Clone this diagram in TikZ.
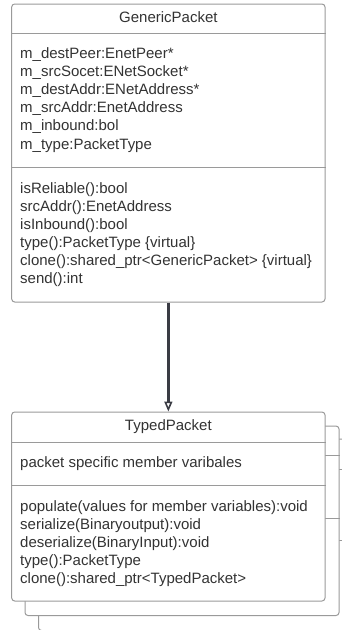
\documentclass[tikz,border=0pt]{standalone}
\usepackage{fontspec}
\setmainfont{Liberation Sans}
\usetikzlibrary{arrows.meta}
\definecolor{bordc}{HTML}{9A9A9A}
\definecolor{txtc}{HTML}{333333}
\definecolor{arrc}{HTML}{3A3C44}
\begin{document}
\begin{tikzpicture}[x=1pt,y=-1pt,
  umlbox/.style={draw=bordc, line width=1pt, fill=white, rounded corners=3pt, inner sep=0pt, rectangle},
  divline/.style={draw=bordc, line width=1pt},
  txt/.style={anchor=base west, inner sep=0pt, text=txtc, font=\fontsize{15}{18}\selectfont},
  ttl/.style={anchor=base, inner sep=0pt, text=txtc, font=\fontsize{15}{18}\selectfont},
  arr/.style={draw=arrc, line width=2.4pt, -{Triangle[open, length=10pt, width=8pt, line width=1.6pt]}}]
\useasboundingbox (0,0) rectangle (342,630);

% back stacked boxes
\node[umlbox, minimum width=313.5pt, minimum height=191.5pt] (b3) at (195.25,534.75) {};
\draw[divline] (b3.west |- 0,469) -- (b3.east |- 0,469);
\draw[divline] (b3.west |- 0,540) -- (b3.east |- 0,540);
\node[umlbox, minimum width=314pt, minimum height=189.5pt] (b2) at (182,520.75) {};
\draw[divline] (b2.west |- 0,455) -- (b2.east |- 0,455);
\draw[divline] (b2.west |- 0,518) -- (b2.east |- 0,518);

% GenericPacket
\node[umlbox, minimum width=313.3pt, minimum height=298pt] (gp) at (168.35,153) {};
\draw[divline] (gp.west |- 0,33) -- (gp.east |- 0,33);
\draw[divline] (gp.west |- 0,167.5) -- (gp.east |- 0,167.5);
\node[ttl] (gpt) at (168.35,22) {GenericPacket};
\node[txt] (ga1) at (20,58.5) {m\_destPeer:EnetPeer*};
\node[txt] (ga2) at (20,76.6) {m\_srcSocet:ENetSocket*};
\node[txt] (ga3) at (20,94.7) {m\_destAddr:ENetAddress*};
\node[txt] (ga4) at (20,112.8) {m\_srcAddr:EnetAddress};
\node[txt] (ga5) at (20,130.9) {m\_inbound:bol};
\node[txt] (ga6) at (20,149) {m\_type:PacketType};
\node[txt] (gm1) at (20,193) {isReliable():bool};
\node[txt] (gm2) at (20,211) {srcAddr():EnetAddress};
\node[txt] (gm3) at (20,229) {isInbound():bool};
\node[txt] (gm4) at (20,247) {type():PacketType \{virtual\}};
\node[txt] (gm5) at (20,265) {clone():shared\_ptr<GenericPacket> \{virtual\}};
\node[txt] (gm6) at (20,283) {send():int};

% TypedPacket
\node[umlbox, minimum width=313.3pt, minimum height=189pt] (tp) at (168.35,506.5) {};
\draw[divline] (tp.west |- 0,442) -- (tp.east |- 0,442);
\draw[divline] (tp.west |- 0,485) -- (tp.east |- 0,485);
\node[ttl] (tpt) at (168.35,430) {TypedPacket};
\node[txt] (ta1) at (20,467) {packet specific member varibales};
\node[txt] (tm1) at (20,511) {populate(values for member variables):void};
\node[txt] (tm2) at (20,529) {serialize(Binaryoutput):void};
\node[txt] (tm3) at (20,547) {deserialize(BinaryInput):void};
\node[txt] (tm4) at (20,565) {type():PacketType};
\node[txt] (tm5) at (20,583) {clone():shared\_ptr<TypedPacket>};

% inheritance arrow
\draw[arr] (gp.south) -- (tp.north);
\end{tikzpicture}
\end{document}
